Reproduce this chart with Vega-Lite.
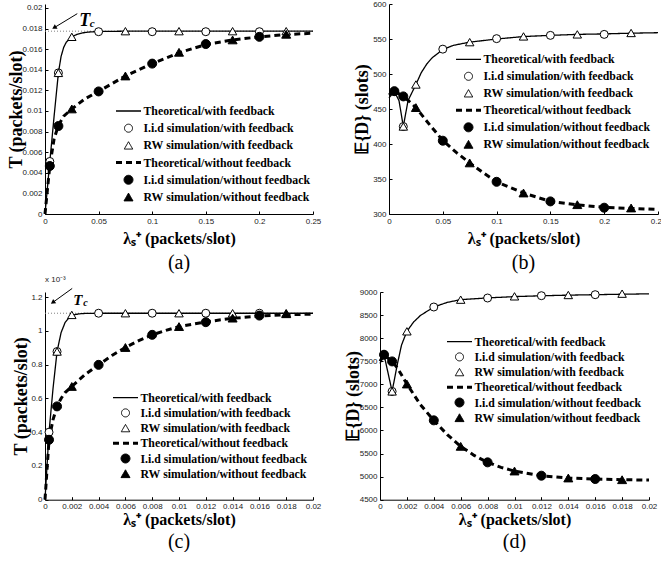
{
"$schema": "https://vega.github.io/schema/vega-lite/v6.json",
"background": "white",
"padding": {"left": 7, "top": 0, "right": 0, "bottom": 0},
"config": {
  "view": {"stroke": null},
  "axis": {"grid": false, "domainColor": "black", "domainWidth": 1, "tickColor": "black", "tickWidth": 1, "tickSize": -3, "labelFont": "Liberation Sans", "labelFontSize": 8, "labelColor": "#222", "labelPadding": 6, "labelFlush": false, "labelOverlap": false, "titleFont": "Liberation Serif", "titleFontWeight": "bold", "titleColor": "black", "titleFontSize": 16},
  "axisX": {"titlePadding": 5},
  "axisY": {"titleFontSize": 18},
  "legend": {"labelFont": "Liberation Serif", "labelFontSize": 11.8, "labelFontWeight": "bold", "labelColor": "black", "padding": 0, "labelOffset": 1, "clipHeight": 14, "labelLimit": 300},
  "title": {"font": "Liberation Sans", "fontSize": 8, "fontWeight": "normal", "color": "#222"}
},
"spacing": 3,
"resolve": {"scale": {"shape": "independent", "fill": "independent", "stroke": "independent", "size": "independent", "strokeWidth": "independent", "strokeDash": "independent"}, "legend": {"shape": "independent", "fill": "independent", "stroke": "independent", "size": "independent", "strokeWidth": "independent", "strokeDash": "independent"}},
"vconcat": [
{
"spacing": 32,
"resolve": {"scale": {"shape": "independent", "fill": "independent", "stroke": "independent", "size": "independent", "strokeWidth": "independent", "strokeDash": "independent"}, "legend": {"shape": "independent", "fill": "independent", "stroke": "independent", "size": "independent", "strokeWidth": "independent", "strokeDash": "independent"}},
"hconcat": [
{
  "width": 268, "height": 210,
  "layer": [
    {
      "data": {"values": [{"y": 0.01775}]},
      "mark": {"type": "rule", "color": "#808080", "strokeDash": [1, 2], "strokeWidth": 1},
      "encoding": {
        "y": {"field": "y", "type": "quantitative", "scale": {"domain": [0, 0.0203883], "nice": false, "zero": false},
              "axis": {"title": "T (packets/slot)", "values": [0, 0.002, 0.004, 0.006, 0.008, 0.01, 0.012, 0.014, 0.016, 0.018, 0.02], "tickCount": 30, "format": "~g", "labelOverlap": false, "titlePadding": -4}}
      }
    },
    {
      "data": {"values": [
        {"x": 0, "y": 0, "s": "Theoretical/with feedback"},
        {"x": 0.0045, "y": 0.0051, "s": "Theoretical/with feedback"},
        {"x": 0.0085, "y": 0.0095, "s": "Theoretical/with feedback"},
        {"x": 0.0125, "y": 0.0137, "s": "Theoretical/with feedback"},
        {"x": 0.015, "y": 0.0153, "s": "Theoretical/with feedback"},
        {"x": 0.0175, "y": 0.0162, "s": "Theoretical/with feedback"},
        {"x": 0.02, "y": 0.0167, "s": "Theoretical/with feedback"},
        {"x": 0.025, "y": 0.0172, "s": "Theoretical/with feedback"},
        {"x": 0.03, "y": 0.01745, "s": "Theoretical/with feedback"},
        {"x": 0.035, "y": 0.01758, "s": "Theoretical/with feedback"},
        {"x": 0.04, "y": 0.01766, "s": "Theoretical/with feedback"},
        {"x": 0.05, "y": 0.01772, "s": "Theoretical/with feedback"},
        {"x": 0.075, "y": 0.01775, "s": "Theoretical/with feedback"},
        {"x": 0.25, "y": 0.01775, "s": "Theoretical/with feedback"},
        {"x": 0, "y": 0, "s": "Theoretical/without feedback"},
        {"x": 0.0045, "y": 0.0047, "s": "Theoretical/without feedback"},
        {"x": 0.0085, "y": 0.0073, "s": "Theoretical/without feedback"},
        {"x": 0.0125, "y": 0.0086, "s": "Theoretical/without feedback"},
        {"x": 0.0175, "y": 0.0095, "s": "Theoretical/without feedback"},
        {"x": 0.025, "y": 0.0102, "s": "Theoretical/without feedback"},
        {"x": 0.0375, "y": 0.0112, "s": "Theoretical/without feedback"},
        {"x": 0.05, "y": 0.0119, "s": "Theoretical/without feedback"},
        {"x": 0.075, "y": 0.0134, "s": "Theoretical/without feedback"},
        {"x": 0.1, "y": 0.0146, "s": "Theoretical/without feedback"},
        {"x": 0.125, "y": 0.01565, "s": "Theoretical/without feedback"},
        {"x": 0.15, "y": 0.01645, "s": "Theoretical/without feedback"},
        {"x": 0.175, "y": 0.0169, "s": "Theoretical/without feedback"},
        {"x": 0.2, "y": 0.0172, "s": "Theoretical/without feedback"},
        {"x": 0.225, "y": 0.01742, "s": "Theoretical/without feedback"},
        {"x": 0.25, "y": 0.01755, "s": "Theoretical/without feedback"}
      ]},
      "mark": {"type": "line"},
      "encoding": {
        "x": {"field": "x", "type": "quantitative", "scale": {"domain": [0, 0.25], "nice": false, "zero": false},
              "axis": {"title": "λₛ⁺ (packets/slot)", "values": [0, 0.05, 0.1, 0.15, 0.2, 0.25], "tickCount": 30, "format": "~g", "labelOverlap": false, "labelFlush": false}},
        "y": {"field": "y", "type": "quantitative", "scale": {"domain": [0, 0.0203883], "nice": false, "zero": false}},
        "stroke": {"field": "s", "type": "nominal", "scale": {"domain": ["Theoretical/with feedback", "I.i.d simulation/with feedback", "RW simulation/with feedback", "Theoretical/without feedback", "I.i.d simulation/without feedback", "RW simulation/without feedback"], "range": ["black", "black", "black", "black", "black", "black"]}, "legend": {"orient": "none", "legendX": 69.5, "legendY": 100, "rowPadding": 3.2, "title": null}},
        "strokeDash": {"field": "s", "type": "nominal", "scale": {"type": "ordinal", "domain": ["Theoretical/with feedback", "I.i.d simulation/with feedback", "RW simulation/with feedback", "Theoretical/without feedback", "I.i.d simulation/without feedback", "RW simulation/without feedback"], "range": [[1, 0], [1, 0], [1, 0], [6, 4], [1, 0], [1, 0]]}, "legend": {"orient": "none", "legendX": 69.5, "legendY": 100, "rowPadding": 3.2, "title": null}},
        "strokeWidth": {"field": "s", "type": "nominal", "scale": {"type": "ordinal", "domain": ["Theoretical/with feedback", "I.i.d simulation/with feedback", "RW simulation/with feedback", "Theoretical/without feedback", "I.i.d simulation/without feedback", "RW simulation/without feedback"], "range": [1.3, 1, 1, 3, 1, 1]}, "legend": {"orient": "none", "legendX": 69.5, "legendY": 100, "rowPadding": 3.2, "title": null}}
      }
    },
    {
      "data": {"values": [
        {"x": 0.0045, "y": 0.0051, "s": "I.i.d simulation/with feedback"},
        {"x": 0.0125, "y": 0.0137, "s": "I.i.d simulation/with feedback"},
        {"x": 0.05, "y": 0.0177, "s": "I.i.d simulation/with feedback"},
        {"x": 0.1, "y": 0.0177, "s": "I.i.d simulation/with feedback"},
        {"x": 0.15, "y": 0.0177, "s": "I.i.d simulation/with feedback"},
        {"x": 0.2, "y": 0.0177, "s": "I.i.d simulation/with feedback"},
        {"x": 0.0125, "y": 0.0137, "s": "RW simulation/with feedback"},
        {"x": 0.025, "y": 0.0172, "s": "RW simulation/with feedback"},
        {"x": 0.075, "y": 0.01775, "s": "RW simulation/with feedback"},
        {"x": 0.125, "y": 0.01775, "s": "RW simulation/with feedback"},
        {"x": 0.175, "y": 0.01775, "s": "RW simulation/with feedback"},
        {"x": 0.225, "y": 0.01775, "s": "RW simulation/with feedback"},
        {"x": 0.0045, "y": 0.00466, "s": "I.i.d simulation/without feedback"},
        {"x": 0.0125, "y": 0.00854, "s": "I.i.d simulation/without feedback"},
        {"x": 0.05, "y": 0.0119, "s": "I.i.d simulation/without feedback"},
        {"x": 0.1, "y": 0.0146, "s": "I.i.d simulation/without feedback"},
        {"x": 0.15, "y": 0.0165, "s": "I.i.d simulation/without feedback"},
        {"x": 0.2, "y": 0.0172, "s": "I.i.d simulation/without feedback"},
        {"x": 0.025, "y": 0.0102, "s": "RW simulation/without feedback"},
        {"x": 0.075, "y": 0.0134, "s": "RW simulation/without feedback"},
        {"x": 0.125, "y": 0.0157, "s": "RW simulation/without feedback"},
        {"x": 0.175, "y": 0.0169, "s": "RW simulation/without feedback"},
        {"x": 0.225, "y": 0.01745, "s": "RW simulation/without feedback"}
      ]},
      "mark": {"type": "point", "filled": true, "opacity": 1},
      "encoding": {
        "x": {"field": "x", "type": "quantitative", "scale": {"domain": [0, 0.25], "nice": false, "zero": false}},
        "y": {"field": "y", "type": "quantitative", "scale": {"domain": [0, 0.0203883], "nice": false, "zero": false}},
        "shape": {"field": "s", "type": "nominal", "scale": {"domain": ["Theoretical/with feedback", "I.i.d simulation/with feedback", "RW simulation/with feedback", "Theoretical/without feedback", "I.i.d simulation/without feedback", "RW simulation/without feedback"], "range": ["stroke", "circle", "triangle-up", "stroke", "circle", "triangle-up"]}, "legend": {"orient": "none", "legendX": 69.5, "legendY": 100, "rowPadding": 3.2, "title": null}},
        "fill": {"field": "s", "type": "nominal", "scale": {"domain": ["Theoretical/with feedback", "I.i.d simulation/with feedback", "RW simulation/with feedback", "Theoretical/without feedback", "I.i.d simulation/without feedback", "RW simulation/without feedback"], "range": ["black", "white", "white", "black", "black", "black"]}, "legend": {"orient": "none", "legendX": 69.5, "legendY": 100, "rowPadding": 3.2, "title": null}},
        "stroke": {"field": "s", "type": "nominal", "scale": {"domain": ["Theoretical/with feedback", "I.i.d simulation/with feedback", "RW simulation/with feedback", "Theoretical/without feedback", "I.i.d simulation/without feedback", "RW simulation/without feedback"], "range": ["black", "black", "black", "black", "black", "black"]}, "legend": {"orient": "none", "legendX": 69.5, "legendY": 100, "rowPadding": 3.2, "title": null}},
        "size": {"field": "s", "type": "nominal", "scale": {"type": "ordinal", "domain": ["Theoretical/with feedback", "I.i.d simulation/with feedback", "RW simulation/with feedback", "Theoretical/without feedback", "I.i.d simulation/without feedback", "RW simulation/without feedback"], "range": [625, 64, 72, 625, 81, 81]}, "legend": {"orient": "none", "legendX": 69.5, "legendY": 100, "rowPadding": 3.2, "title": null}},
        "strokeWidth": {"field": "s", "type": "nominal", "scale": {"type": "ordinal", "domain": ["Theoretical/with feedback", "I.i.d simulation/with feedback", "RW simulation/with feedback", "Theoretical/without feedback", "I.i.d simulation/without feedback", "RW simulation/without feedback"], "range": [1.3, 1, 1, 3, 1, 1]}, "legend": {"orient": "none", "legendX": 69.5, "legendY": 100, "rowPadding": 3.2, "title": null}}
      }
    },
    {
      "data": {"values": [{"x": 0.0301, "y": 0.01945, "x2": 0.0086, "y2": 0.01809}]},
      "mark": {"type": "rule", "color": "black", "strokeWidth": 1},
      "encoding": {
        "x": {"field": "x", "type": "quantitative", "scale": {"domain": [0, 0.25], "nice": false, "zero": false}},
        "y": {"field": "y", "type": "quantitative", "scale": {"domain": [0, 0.0203883], "nice": false, "zero": false}},
        "x2": {"field": "x2"}, "y2": {"field": "y2"}
      }
    },
    {
      "data": {"values": [{"x": 0.0086, "y": 0.01809}]},
      "mark": {"type": "point", "shape": "triangle-up", "filled": true, "color": "black", "size": 28, "angle": 239, "opacity": 1},
      "encoding": {
        "x": {"field": "x", "type": "quantitative", "scale": {"domain": [0, 0.25], "nice": false, "zero": false}},
        "y": {"field": "y", "type": "quantitative", "scale": {"domain": [0, 0.0203883], "nice": false, "zero": false}}
      }
    },
    {
      "data": {"values": [{"x": 0.032, "y": 0.01828, "label": "T"}]},
      "mark": {"type": "text", "font": "Liberation Serif", "fontSize": 18, "fontStyle": "italic", "fontWeight": "bold", "align": "left", "baseline": "alphabetic", "color": "black"},
      "encoding": {
        "x": {"field": "x", "type": "quantitative", "scale": {"domain": [0, 0.25], "nice": false, "zero": false}},
        "y": {"field": "y", "type": "quantitative", "scale": {"domain": [0, 0.0203883], "nice": false, "zero": false}},
        "text": {"field": "label"}
      }
    },
    {
      "data": {"values": [{"x": 0.0418, "y": 0.01812, "label": "c"}]},
      "mark": {"type": "text", "font": "Liberation Serif", "fontSize": 11, "fontStyle": "italic", "fontWeight": "bold", "align": "left", "baseline": "alphabetic", "color": "black"},
      "encoding": {
        "x": {"field": "x", "type": "quantitative", "scale": {"domain": [0, 0.25], "nice": false, "zero": false}},
        "y": {"field": "y", "type": "quantitative", "scale": {"domain": [0, 0.0203883], "nice": false, "zero": false}},
        "text": {"field": "label"}
      }
    },
    {
      "data": {"values": [{"x": 0.125, "y": 0, "label": "(a)"}]},
      "mark": {"type": "text", "font": "Liberation Serif", "fontSize": 20, "align": "center", "baseline": "middle", "dy": 49, "color": "black"},
      "encoding": {
        "x": {"field": "x", "type": "quantitative", "scale": {"domain": [0, 0.25], "nice": false, "zero": false}},
        "y": {"field": "y", "type": "quantitative", "scale": {"domain": [0, 0.0203883], "nice": false, "zero": false}},
        "text": {"field": "label"}
      }
    }
  ]
},
{
  "width": 269, "height": 210,
  "layer": [
    {
      "data": {"values": [
        {"x": 0, "y": 466, "s": "Theoretical/with feedback"},
        {"x": 0.005, "y": 475, "s": "Theoretical/with feedback"},
        {"x": 0.0093, "y": 462, "s": "Theoretical/with feedback"},
        {"x": 0.0133, "y": 425, "s": "Theoretical/with feedback"},
        {"x": 0.0177, "y": 462, "s": "Theoretical/with feedback"},
        {"x": 0.025, "y": 485, "s": "Theoretical/with feedback"},
        {"x": 0.03, "y": 502, "s": "Theoretical/with feedback"},
        {"x": 0.035, "y": 514, "s": "Theoretical/with feedback"},
        {"x": 0.04, "y": 523, "s": "Theoretical/with feedback"},
        {"x": 0.05, "y": 535, "s": "Theoretical/with feedback"},
        {"x": 0.06, "y": 541, "s": "Theoretical/with feedback"},
        {"x": 0.075, "y": 545.5, "s": "Theoretical/with feedback"},
        {"x": 0.1, "y": 550, "s": "Theoretical/with feedback"},
        {"x": 0.125, "y": 553.5, "s": "Theoretical/with feedback"},
        {"x": 0.15, "y": 555.2, "s": "Theoretical/with feedback"},
        {"x": 0.175, "y": 556.6, "s": "Theoretical/with feedback"},
        {"x": 0.2, "y": 557.3, "s": "Theoretical/with feedback"},
        {"x": 0.225, "y": 558.3, "s": "Theoretical/with feedback"},
        {"x": 0.25, "y": 559, "s": "Theoretical/with feedback"},
        {"x": 0, "y": 470, "s": "Theoretical/without feedback"},
        {"x": 0.005, "y": 475.5, "s": "Theoretical/without feedback"},
        {"x": 0.0133, "y": 468, "s": "Theoretical/without feedback"},
        {"x": 0.018, "y": 462, "s": "Theoretical/without feedback"},
        {"x": 0.025, "y": 452, "s": "Theoretical/without feedback"},
        {"x": 0.0375, "y": 428, "s": "Theoretical/without feedback"},
        {"x": 0.05, "y": 405, "s": "Theoretical/without feedback"},
        {"x": 0.0625, "y": 388, "s": "Theoretical/without feedback"},
        {"x": 0.075, "y": 373, "s": "Theoretical/without feedback"},
        {"x": 0.0875, "y": 359, "s": "Theoretical/without feedback"},
        {"x": 0.1, "y": 346, "s": "Theoretical/without feedback"},
        {"x": 0.125, "y": 330, "s": "Theoretical/without feedback"},
        {"x": 0.15, "y": 318, "s": "Theoretical/without feedback"},
        {"x": 0.175, "y": 313, "s": "Theoretical/without feedback"},
        {"x": 0.2, "y": 309.5, "s": "Theoretical/without feedback"},
        {"x": 0.225, "y": 308, "s": "Theoretical/without feedback"},
        {"x": 0.25, "y": 306.5, "s": "Theoretical/without feedback"}
      ]},
      "mark": {"type": "line"},
      "encoding": {
        "x": {"field": "x", "type": "quantitative", "scale": {"domain": [0, 0.25], "nice": false, "zero": false},
              "axis": {"title": "λₛ⁺ (packets/slot)", "values": [0, 0.05, 0.1, 0.15, 0.2, 0.25], "tickCount": 30, "format": "~g", "labelOverlap": false, "labelFlush": false}},
        "y": {"field": "y", "type": "quantitative", "scale": {"domain": [300, 600], "nice": false, "zero": false},
              "axis": {"title": "𝔼{D} (slots)", "values": [300, 350, 400, 450, 500, 550, 600], "tickCount": 30, "format": "d", "labelOverlap": false, "titlePadding": 1}},
        "stroke": {"field": "s", "type": "nominal", "scale": {"domain": ["Theoretical/with feedback", "I.i.d simulation/with feedback", "RW simulation/with feedback", "Theoretical/without feedback", "I.i.d simulation/without feedback", "RW simulation/without feedback"], "range": ["black", "black", "black", "black", "black", "black"]}, "legend": {"orient": "none", "legendX": 65.5, "legendY": 48.3, "rowPadding": 3, "title": null}},
        "strokeDash": {"field": "s", "type": "nominal", "scale": {"type": "ordinal", "domain": ["Theoretical/with feedback", "I.i.d simulation/with feedback", "RW simulation/with feedback", "Theoretical/without feedback", "I.i.d simulation/without feedback", "RW simulation/without feedback"], "range": [[1, 0], [1, 0], [1, 0], [6, 4], [1, 0], [1, 0]]}, "legend": {"orient": "none", "legendX": 65.5, "legendY": 48.3, "rowPadding": 3, "title": null}},
        "strokeWidth": {"field": "s", "type": "nominal", "scale": {"type": "ordinal", "domain": ["Theoretical/with feedback", "I.i.d simulation/with feedback", "RW simulation/with feedback", "Theoretical/without feedback", "I.i.d simulation/without feedback", "RW simulation/without feedback"], "range": [1.3, 1, 1, 3, 1, 1]}, "legend": {"orient": "none", "legendX": 65.5, "legendY": 48.3, "rowPadding": 3, "title": null}}
      }
    },
    {
      "data": {"values": [
        {"x": 0.005, "y": 475, "s": "I.i.d simulation/with feedback"},
        {"x": 0.0133, "y": 425, "s": "I.i.d simulation/with feedback"},
        {"x": 0.05, "y": 535.5, "s": "I.i.d simulation/with feedback"},
        {"x": 0.1, "y": 550.5, "s": "I.i.d simulation/with feedback"},
        {"x": 0.15, "y": 555.2, "s": "I.i.d simulation/with feedback"},
        {"x": 0.2, "y": 556.6, "s": "I.i.d simulation/with feedback"},
        {"x": 0.0133, "y": 425, "s": "RW simulation/with feedback"},
        {"x": 0.025, "y": 485, "s": "RW simulation/with feedback"},
        {"x": 0.075, "y": 545.5, "s": "RW simulation/with feedback"},
        {"x": 0.125, "y": 553.7, "s": "RW simulation/with feedback"},
        {"x": 0.175, "y": 556.6, "s": "RW simulation/with feedback"},
        {"x": 0.225, "y": 558.6, "s": "RW simulation/with feedback"},
        {"x": 0.005, "y": 475.5, "s": "I.i.d simulation/without feedback"},
        {"x": 0.0133, "y": 468, "s": "I.i.d simulation/without feedback"},
        {"x": 0.05, "y": 404.7, "s": "I.i.d simulation/without feedback"},
        {"x": 0.1, "y": 346, "s": "I.i.d simulation/without feedback"},
        {"x": 0.15, "y": 318, "s": "I.i.d simulation/without feedback"},
        {"x": 0.2, "y": 309, "s": "I.i.d simulation/without feedback"},
        {"x": 0.025, "y": 452, "s": "RW simulation/without feedback"},
        {"x": 0.075, "y": 373, "s": "RW simulation/without feedback"},
        {"x": 0.125, "y": 330, "s": "RW simulation/without feedback"},
        {"x": 0.175, "y": 313.3, "s": "RW simulation/without feedback"},
        {"x": 0.225, "y": 308.6, "s": "RW simulation/without feedback"}
      ]},
      "mark": {"type": "point", "filled": true, "opacity": 1},
      "encoding": {
        "x": {"field": "x", "type": "quantitative", "scale": {"domain": [0, 0.25], "nice": false, "zero": false}},
        "y": {"field": "y", "type": "quantitative", "scale": {"domain": [300, 600], "nice": false, "zero": false}},
        "shape": {"field": "s", "type": "nominal", "scale": {"domain": ["Theoretical/with feedback", "I.i.d simulation/with feedback", "RW simulation/with feedback", "Theoretical/without feedback", "I.i.d simulation/without feedback", "RW simulation/without feedback"], "range": ["stroke", "circle", "triangle-up", "stroke", "circle", "triangle-up"]}, "legend": {"orient": "none", "legendX": 65.5, "legendY": 48.3, "rowPadding": 3, "title": null}},
        "fill": {"field": "s", "type": "nominal", "scale": {"domain": ["Theoretical/with feedback", "I.i.d simulation/with feedback", "RW simulation/with feedback", "Theoretical/without feedback", "I.i.d simulation/without feedback", "RW simulation/without feedback"], "range": ["black", "white", "white", "black", "black", "black"]}, "legend": {"orient": "none", "legendX": 65.5, "legendY": 48.3, "rowPadding": 3, "title": null}},
        "stroke": {"field": "s", "type": "nominal", "scale": {"domain": ["Theoretical/with feedback", "I.i.d simulation/with feedback", "RW simulation/with feedback", "Theoretical/without feedback", "I.i.d simulation/without feedback", "RW simulation/without feedback"], "range": ["black", "black", "black", "black", "black", "black"]}, "legend": {"orient": "none", "legendX": 65.5, "legendY": 48.3, "rowPadding": 3, "title": null}},
        "size": {"field": "s", "type": "nominal", "scale": {"type": "ordinal", "domain": ["Theoretical/with feedback", "I.i.d simulation/with feedback", "RW simulation/with feedback", "Theoretical/without feedback", "I.i.d simulation/without feedback", "RW simulation/without feedback"], "range": [625, 64, 72, 625, 81, 81]}, "legend": {"orient": "none", "legendX": 65.5, "legendY": 48.3, "rowPadding": 3, "title": null}},
        "strokeWidth": {"field": "s", "type": "nominal", "scale": {"type": "ordinal", "domain": ["Theoretical/with feedback", "I.i.d simulation/with feedback", "RW simulation/with feedback", "Theoretical/without feedback", "I.i.d simulation/without feedback", "RW simulation/without feedback"], "range": [1.3, 1, 1, 3, 1, 1]}, "legend": {"orient": "none", "legendX": 65.5, "legendY": 48.3, "rowPadding": 3, "title": null}}
      }
    },
    {
      "data": {"values": [{"x": 0.125, "y": 300, "label": "(b)"}]},
      "mark": {"type": "text", "font": "Liberation Serif", "fontSize": 20, "align": "center", "baseline": "middle", "dy": 49, "color": "black"},
      "encoding": {
        "x": {"field": "x", "type": "quantitative", "scale": {"domain": [0, 0.25], "nice": false, "zero": false}},
        "y": {"field": "y", "type": "quantitative", "scale": {"domain": [300, 600], "nice": false, "zero": false}},
        "text": {"field": "label"}
      }
    }
  ]
}
]
},
{
"spacing": 23,
"resolve": {"scale": {"shape": "independent", "fill": "independent", "stroke": "independent", "size": "independent", "strokeWidth": "independent", "strokeDash": "independent"}, "legend": {"shape": "independent", "fill": "independent", "stroke": "independent", "size": "independent", "strokeWidth": "independent", "strokeDash": "independent"}},
"hconcat": [
{
  "width": 268, "height": 207.7,
  "title": {"text": "x 10⁻³", "anchor": "start", "frame": "group", "fontSize": 8, "offset": 3.6},
  "layer": [
    {
      "data": {"values": [{"y": 1.105}]},
      "mark": {"type": "rule", "color": "#808080", "strokeDash": [1, 2], "strokeWidth": 1},
      "encoding": {
        "y": {"field": "y", "type": "quantitative", "scale": {"domain": [0, 1.2308], "nice": false, "zero": false},
              "axis": {"title": "T (packets/slot)", "values": [0, 0.2, 0.4, 0.6, 0.8, 1, 1.2], "tickCount": 30, "format": "~g", "labelOverlap": false, "titlePadding": 0}}
      }
    },
    {
      "data": {"values": [
        {"x": 0, "y": 0, "s": "Theoretical/with feedback"},
        {"x": 0.0003, "y": 0.4, "s": "Theoretical/with feedback"},
        {"x": 0.0006, "y": 0.66, "s": "Theoretical/with feedback"},
        {"x": 0.0009, "y": 0.878, "s": "Theoretical/with feedback"},
        {"x": 0.0012, "y": 0.99, "s": "Theoretical/with feedback"},
        {"x": 0.0015, "y": 1.05, "s": "Theoretical/with feedback"},
        {"x": 0.0018, "y": 1.08, "s": "Theoretical/with feedback"},
        {"x": 0.002, "y": 1.092, "s": "Theoretical/with feedback"},
        {"x": 0.0025, "y": 1.101, "s": "Theoretical/with feedback"},
        {"x": 0.003, "y": 1.104, "s": "Theoretical/with feedback"},
        {"x": 0.004, "y": 1.105, "s": "Theoretical/with feedback"},
        {"x": 0.02, "y": 1.105, "s": "Theoretical/with feedback"},
        {"x": 0, "y": 0, "s": "Theoretical/without feedback"},
        {"x": 0.0003, "y": 0.355, "s": "Theoretical/without feedback"},
        {"x": 0.0006, "y": 0.475, "s": "Theoretical/without feedback"},
        {"x": 0.0009, "y": 0.553, "s": "Theoretical/without feedback"},
        {"x": 0.0012, "y": 0.6, "s": "Theoretical/without feedback"},
        {"x": 0.0015, "y": 0.635, "s": "Theoretical/without feedback"},
        {"x": 0.002, "y": 0.671, "s": "Theoretical/without feedback"},
        {"x": 0.003, "y": 0.742, "s": "Theoretical/without feedback"},
        {"x": 0.004, "y": 0.799, "s": "Theoretical/without feedback"},
        {"x": 0.005, "y": 0.855, "s": "Theoretical/without feedback"},
        {"x": 0.006, "y": 0.902, "s": "Theoretical/without feedback"},
        {"x": 0.007, "y": 0.943, "s": "Theoretical/without feedback"},
        {"x": 0.008, "y": 0.977, "s": "Theoretical/without feedback"},
        {"x": 0.009, "y": 1.003, "s": "Theoretical/without feedback"},
        {"x": 0.01, "y": 1.026, "s": "Theoretical/without feedback"},
        {"x": 0.012, "y": 1.054, "s": "Theoretical/without feedback"},
        {"x": 0.014, "y": 1.075, "s": "Theoretical/without feedback"},
        {"x": 0.016, "y": 1.088, "s": "Theoretical/without feedback"},
        {"x": 0.018, "y": 1.096, "s": "Theoretical/without feedback"},
        {"x": 0.02, "y": 1.1, "s": "Theoretical/without feedback"}
      ]},
      "mark": {"type": "line"},
      "encoding": {
        "x": {"field": "x", "type": "quantitative", "scale": {"domain": [0, 0.02], "nice": false, "zero": false},
              "axis": {"title": "λₛ⁺ (packets/slot)", "values": [0, 0.002, 0.004, 0.006, 0.008, 0.01, 0.012, 0.014, 0.016, 0.018, 0.02], "tickCount": 30, "format": "~g", "labelOverlap": false, "labelFlush": false, "titlePadding": 1}},
        "y": {"field": "y", "type": "quantitative", "scale": {"domain": [0, 1.2308], "nice": false, "zero": false}},
        "stroke": {"field": "s", "type": "nominal", "scale": {"domain": ["Theoretical/with feedback", "I.i.d simulation/with feedback", "RW simulation/with feedback", "Theoretical/without feedback", "I.i.d simulation/without feedback", "RW simulation/without feedback"], "range": ["black", "black", "black", "black", "black", "black"]}, "legend": {"orient": "none", "legendX": 66.5, "legendY": 98.7, "rowPadding": 1.2, "title": null}},
        "strokeDash": {"field": "s", "type": "nominal", "scale": {"type": "ordinal", "domain": ["Theoretical/with feedback", "I.i.d simulation/with feedback", "RW simulation/with feedback", "Theoretical/without feedback", "I.i.d simulation/without feedback", "RW simulation/without feedback"], "range": [[1, 0], [1, 0], [1, 0], [6, 4], [1, 0], [1, 0]]}, "legend": {"orient": "none", "legendX": 66.5, "legendY": 98.7, "rowPadding": 1.2, "title": null}},
        "strokeWidth": {"field": "s", "type": "nominal", "scale": {"type": "ordinal", "domain": ["Theoretical/with feedback", "I.i.d simulation/with feedback", "RW simulation/with feedback", "Theoretical/without feedback", "I.i.d simulation/without feedback", "RW simulation/without feedback"], "range": [1.3, 1, 1, 3, 1, 1]}, "legend": {"orient": "none", "legendX": 66.5, "legendY": 98.7, "rowPadding": 1.2, "title": null}}
      }
    },
    {
      "data": {"values": [
        {"x": 0.0003, "y": 0.4, "s": "I.i.d simulation/with feedback"},
        {"x": 0.0009, "y": 0.878, "s": "I.i.d simulation/with feedback"},
        {"x": 0.004, "y": 1.105, "s": "I.i.d simulation/with feedback"},
        {"x": 0.008, "y": 1.105, "s": "I.i.d simulation/with feedback"},
        {"x": 0.012, "y": 1.105, "s": "I.i.d simulation/with feedback"},
        {"x": 0.016, "y": 1.105, "s": "I.i.d simulation/with feedback"},
        {"x": 0.0009, "y": 0.878, "s": "RW simulation/with feedback"},
        {"x": 0.002, "y": 1.095, "s": "RW simulation/with feedback"},
        {"x": 0.006, "y": 1.105, "s": "RW simulation/with feedback"},
        {"x": 0.01, "y": 1.105, "s": "RW simulation/with feedback"},
        {"x": 0.014, "y": 1.105, "s": "RW simulation/with feedback"},
        {"x": 0.018, "y": 1.105, "s": "RW simulation/with feedback"},
        {"x": 0.0003, "y": 0.355, "s": "I.i.d simulation/without feedback"},
        {"x": 0.0009, "y": 0.553, "s": "I.i.d simulation/without feedback"},
        {"x": 0.004, "y": 0.799, "s": "I.i.d simulation/without feedback"},
        {"x": 0.008, "y": 0.977, "s": "I.i.d simulation/without feedback"},
        {"x": 0.012, "y": 1.052, "s": "I.i.d simulation/without feedback"},
        {"x": 0.016, "y": 1.091, "s": "I.i.d simulation/without feedback"},
        {"x": 0.002, "y": 0.671, "s": "RW simulation/without feedback"},
        {"x": 0.006, "y": 0.902, "s": "RW simulation/without feedback"},
        {"x": 0.01, "y": 1.026, "s": "RW simulation/without feedback"},
        {"x": 0.014, "y": 1.076, "s": "RW simulation/without feedback"},
        {"x": 0.018, "y": 1.102, "s": "RW simulation/without feedback"}
      ]},
      "mark": {"type": "point", "filled": true, "opacity": 1},
      "encoding": {
        "x": {"field": "x", "type": "quantitative", "scale": {"domain": [0, 0.02], "nice": false, "zero": false}},
        "y": {"field": "y", "type": "quantitative", "scale": {"domain": [0, 1.2308], "nice": false, "zero": false}},
        "shape": {"field": "s", "type": "nominal", "scale": {"domain": ["Theoretical/with feedback", "I.i.d simulation/with feedback", "RW simulation/with feedback", "Theoretical/without feedback", "I.i.d simulation/without feedback", "RW simulation/without feedback"], "range": ["stroke", "circle", "triangle-up", "stroke", "circle", "triangle-up"]}, "legend": {"orient": "none", "legendX": 66.5, "legendY": 98.7, "rowPadding": 1.2, "title": null}},
        "fill": {"field": "s", "type": "nominal", "scale": {"domain": ["Theoretical/with feedback", "I.i.d simulation/with feedback", "RW simulation/with feedback", "Theoretical/without feedback", "I.i.d simulation/without feedback", "RW simulation/without feedback"], "range": ["black", "white", "white", "black", "black", "black"]}, "legend": {"orient": "none", "legendX": 66.5, "legendY": 98.7, "rowPadding": 1.2, "title": null}},
        "stroke": {"field": "s", "type": "nominal", "scale": {"domain": ["Theoretical/with feedback", "I.i.d simulation/with feedback", "RW simulation/with feedback", "Theoretical/without feedback", "I.i.d simulation/without feedback", "RW simulation/without feedback"], "range": ["black", "black", "black", "black", "black", "black"]}, "legend": {"orient": "none", "legendX": 66.5, "legendY": 98.7, "rowPadding": 1.2, "title": null}},
        "size": {"field": "s", "type": "nominal", "scale": {"type": "ordinal", "domain": ["Theoretical/with feedback", "I.i.d simulation/with feedback", "RW simulation/with feedback", "Theoretical/without feedback", "I.i.d simulation/without feedback", "RW simulation/without feedback"], "range": [625, 64, 72, 625, 81, 81]}, "legend": {"orient": "none", "legendX": 66.5, "legendY": 98.7, "rowPadding": 1.2, "title": null}},
        "strokeWidth": {"field": "s", "type": "nominal", "scale": {"type": "ordinal", "domain": ["Theoretical/with feedback", "I.i.d simulation/with feedback", "RW simulation/with feedback", "Theoretical/without feedback", "I.i.d simulation/without feedback", "RW simulation/without feedback"], "range": [1.3, 1, 1, 3, 1, 1]}, "legend": {"orient": "none", "legendX": 66.5, "legendY": 98.7, "rowPadding": 1.2, "title": null}}
      }
    },
    {
      "data": {"values": [{"x": 0.00203, "y": 1.252, "x2": 0.00058, "y2": 1.169}]},
      "mark": {"type": "rule", "color": "black", "strokeWidth": 1},
      "encoding": {
        "x": {"field": "x", "type": "quantitative", "scale": {"domain": [0, 0.02], "nice": false, "zero": false}},
        "y": {"field": "y", "type": "quantitative", "scale": {"domain": [0, 1.2308], "nice": false, "zero": false}},
        "x2": {"field": "x2"}, "y2": {"field": "y2"}
      }
    },
    {
      "data": {"values": [{"x": 0.00058, "y": 1.169}]},
      "mark": {"type": "point", "shape": "triangle-up", "filled": true, "color": "black", "size": 28, "angle": 235, "opacity": 1},
      "encoding": {
        "x": {"field": "x", "type": "quantitative", "scale": {"domain": [0, 0.02], "nice": false, "zero": false}},
        "y": {"field": "y", "type": "quantitative", "scale": {"domain": [0, 1.2308], "nice": false, "zero": false}}
      }
    },
    {
      "data": {"values": [{"x": 0.0021, "y": 1.1556, "label": "T"}]},
      "mark": {"type": "text", "font": "Liberation Serif", "fontSize": 15, "fontStyle": "italic", "fontWeight": "bold", "align": "left", "baseline": "alphabetic", "color": "black"},
      "encoding": {
        "x": {"field": "x", "type": "quantitative", "scale": {"domain": [0, 0.02], "nice": false, "zero": false}},
        "y": {"field": "y", "type": "quantitative", "scale": {"domain": [0, 1.2308], "nice": false, "zero": false}},
        "text": {"field": "label"}
      }
    },
    {
      "data": {"values": [{"x": 0.00285, "y": 1.1496, "label": "c"}]},
      "mark": {"type": "text", "font": "Liberation Serif", "fontSize": 10, "fontStyle": "italic", "fontWeight": "bold", "align": "left", "baseline": "alphabetic", "color": "black"},
      "encoding": {
        "x": {"field": "x", "type": "quantitative", "scale": {"domain": [0, 0.02], "nice": false, "zero": false}},
        "y": {"field": "y", "type": "quantitative", "scale": {"domain": [0, 1.2308], "nice": false, "zero": false}},
        "text": {"field": "label"}
      }
    },
    {
      "data": {"values": [{"x": 0.01, "y": 0, "label": "(c)"}]},
      "mark": {"type": "text", "font": "Liberation Serif", "fontSize": 20, "align": "center", "baseline": "middle", "dy": 42, "color": "black"},
      "encoding": {
        "x": {"field": "x", "type": "quantitative", "scale": {"domain": [0, 0.02], "nice": false, "zero": false}},
        "y": {"field": "y", "type": "quantitative", "scale": {"domain": [0, 1.2308], "nice": false, "zero": false}},
        "text": {"field": "label"}
      }
    }
  ]
},
{
  "width": 269, "height": 207.7,
  "layer": [
    {
      "data": {"values": [
        {"x": 0, "y": 7450, "s": "Theoretical/with feedback"},
        {"x": 0.0003, "y": 7640, "s": "Theoretical/with feedback"},
        {"x": 0.0009, "y": 6846, "s": "Theoretical/with feedback"},
        {"x": 0.0013, "y": 7450, "s": "Theoretical/with feedback"},
        {"x": 0.0016, "y": 7850, "s": "Theoretical/with feedback"},
        {"x": 0.002, "y": 8148, "s": "Theoretical/with feedback"},
        {"x": 0.0025, "y": 8350, "s": "Theoretical/with feedback"},
        {"x": 0.003, "y": 8490, "s": "Theoretical/with feedback"},
        {"x": 0.004, "y": 8675, "s": "Theoretical/with feedback"},
        {"x": 0.005, "y": 8775, "s": "Theoretical/with feedback"},
        {"x": 0.006, "y": 8834, "s": "Theoretical/with feedback"},
        {"x": 0.008, "y": 8872, "s": "Theoretical/with feedback"},
        {"x": 0.01, "y": 8900, "s": "Theoretical/with feedback"},
        {"x": 0.012, "y": 8918, "s": "Theoretical/with feedback"},
        {"x": 0.014, "y": 8932, "s": "Theoretical/with feedback"},
        {"x": 0.016, "y": 8942, "s": "Theoretical/with feedback"},
        {"x": 0.018, "y": 8952, "s": "Theoretical/with feedback"},
        {"x": 0.02, "y": 8960, "s": "Theoretical/with feedback"},
        {"x": 0, "y": 7500, "s": "Theoretical/without feedback"},
        {"x": 0.0003, "y": 7641, "s": "Theoretical/without feedback"},
        {"x": 0.0009, "y": 7496, "s": "Theoretical/without feedback"},
        {"x": 0.0013, "y": 7353, "s": "Theoretical/without feedback"},
        {"x": 0.002, "y": 7006, "s": "Theoretical/without feedback"},
        {"x": 0.003, "y": 6560, "s": "Theoretical/without feedback"},
        {"x": 0.004, "y": 6219, "s": "Theoretical/without feedback"},
        {"x": 0.005, "y": 5910, "s": "Theoretical/without feedback"},
        {"x": 0.006, "y": 5656, "s": "Theoretical/without feedback"},
        {"x": 0.007, "y": 5460, "s": "Theoretical/without feedback"},
        {"x": 0.008, "y": 5309, "s": "Theoretical/without feedback"},
        {"x": 0.009, "y": 5200, "s": "Theoretical/without feedback"},
        {"x": 0.01, "y": 5121, "s": "Theoretical/without feedback"},
        {"x": 0.012, "y": 5020, "s": "Theoretical/without feedback"},
        {"x": 0.014, "y": 4970, "s": "Theoretical/without feedback"},
        {"x": 0.016, "y": 4948, "s": "Theoretical/without feedback"},
        {"x": 0.018, "y": 4933, "s": "Theoretical/without feedback"},
        {"x": 0.02, "y": 4925, "s": "Theoretical/without feedback"}
      ]},
      "mark": {"type": "line"},
      "encoding": {
        "x": {"field": "x", "type": "quantitative", "scale": {"domain": [0, 0.02], "nice": false, "zero": false},
              "axis": {"title": "λₛ⁺ (packets/slot)", "values": [0, 0.002, 0.004, 0.006, 0.008, 0.01, 0.012, 0.014, 0.016, 0.018, 0.02], "tickCount": 30, "format": "~g", "labelOverlap": false, "labelFlush": false, "titlePadding": 1}},
        "y": {"field": "y", "type": "quantitative", "scale": {"domain": [4500, 9000], "nice": false, "zero": false},
              "axis": {"title": "𝔼{D} (slots)", "values": [4500, 5000, 5500, 6000, 6500, 7000, 7500, 8000, 8500, 9000], "tickCount": 30, "format": "d", "labelOverlap": false, "titlePadding": -2.8}},
        "stroke": {"field": "s", "type": "nominal", "scale": {"domain": ["Theoretical/with feedback", "I.i.d simulation/with feedback", "RW simulation/with feedback", "Theoretical/without feedback", "I.i.d simulation/without feedback", "RW simulation/without feedback"], "range": ["black", "black", "black", "black", "black", "black"]}, "legend": {"orient": "none", "legendX": 65.5, "legendY": 42.7, "rowPadding": 1.2, "title": null}},
        "strokeDash": {"field": "s", "type": "nominal", "scale": {"type": "ordinal", "domain": ["Theoretical/with feedback", "I.i.d simulation/with feedback", "RW simulation/with feedback", "Theoretical/without feedback", "I.i.d simulation/without feedback", "RW simulation/without feedback"], "range": [[1, 0], [1, 0], [1, 0], [6, 4], [1, 0], [1, 0]]}, "legend": {"orient": "none", "legendX": 65.5, "legendY": 42.7, "rowPadding": 1.2, "title": null}},
        "strokeWidth": {"field": "s", "type": "nominal", "scale": {"type": "ordinal", "domain": ["Theoretical/with feedback", "I.i.d simulation/with feedback", "RW simulation/with feedback", "Theoretical/without feedback", "I.i.d simulation/without feedback", "RW simulation/without feedback"], "range": [1.3, 1, 1, 3, 1, 1]}, "legend": {"orient": "none", "legendX": 65.5, "legendY": 42.7, "rowPadding": 1.2, "title": null}}
      }
    },
    {
      "data": {"values": [
        {"x": 0.0003, "y": 7640, "s": "I.i.d simulation/with feedback"},
        {"x": 0.0009, "y": 6846, "s": "I.i.d simulation/with feedback"},
        {"x": 0.004, "y": 8675, "s": "I.i.d simulation/with feedback"},
        {"x": 0.008, "y": 8870, "s": "I.i.d simulation/with feedback"},
        {"x": 0.012, "y": 8920, "s": "I.i.d simulation/with feedback"},
        {"x": 0.016, "y": 8942, "s": "I.i.d simulation/with feedback"},
        {"x": 0.0009, "y": 6846, "s": "RW simulation/with feedback"},
        {"x": 0.002, "y": 8148, "s": "RW simulation/with feedback"},
        {"x": 0.006, "y": 8834, "s": "RW simulation/with feedback"},
        {"x": 0.01, "y": 8906, "s": "RW simulation/with feedback"},
        {"x": 0.014, "y": 8935, "s": "RW simulation/with feedback"},
        {"x": 0.018, "y": 8964, "s": "RW simulation/with feedback"},
        {"x": 0.0003, "y": 7641, "s": "I.i.d simulation/without feedback"},
        {"x": 0.0009, "y": 7496, "s": "I.i.d simulation/without feedback"},
        {"x": 0.004, "y": 6219, "s": "I.i.d simulation/without feedback"},
        {"x": 0.008, "y": 5309, "s": "I.i.d simulation/without feedback"},
        {"x": 0.012, "y": 5020, "s": "I.i.d simulation/without feedback"},
        {"x": 0.016, "y": 4948, "s": "I.i.d simulation/without feedback"},
        {"x": 0.002, "y": 7006, "s": "RW simulation/without feedback"},
        {"x": 0.006, "y": 5656, "s": "RW simulation/without feedback"},
        {"x": 0.01, "y": 5121, "s": "RW simulation/without feedback"},
        {"x": 0.014, "y": 4970, "s": "RW simulation/without feedback"},
        {"x": 0.018, "y": 4933, "s": "RW simulation/without feedback"}
      ]},
      "mark": {"type": "point", "filled": true, "opacity": 1},
      "encoding": {
        "x": {"field": "x", "type": "quantitative", "scale": {"domain": [0, 0.02], "nice": false, "zero": false}},
        "y": {"field": "y", "type": "quantitative", "scale": {"domain": [4500, 9000], "nice": false, "zero": false}},
        "shape": {"field": "s", "type": "nominal", "scale": {"domain": ["Theoretical/with feedback", "I.i.d simulation/with feedback", "RW simulation/with feedback", "Theoretical/without feedback", "I.i.d simulation/without feedback", "RW simulation/without feedback"], "range": ["stroke", "circle", "triangle-up", "stroke", "circle", "triangle-up"]}, "legend": {"orient": "none", "legendX": 65.5, "legendY": 42.7, "rowPadding": 1.2, "title": null}},
        "fill": {"field": "s", "type": "nominal", "scale": {"domain": ["Theoretical/with feedback", "I.i.d simulation/with feedback", "RW simulation/with feedback", "Theoretical/without feedback", "I.i.d simulation/without feedback", "RW simulation/without feedback"], "range": ["black", "white", "white", "black", "black", "black"]}, "legend": {"orient": "none", "legendX": 65.5, "legendY": 42.7, "rowPadding": 1.2, "title": null}},
        "stroke": {"field": "s", "type": "nominal", "scale": {"domain": ["Theoretical/with feedback", "I.i.d simulation/with feedback", "RW simulation/with feedback", "Theoretical/without feedback", "I.i.d simulation/without feedback", "RW simulation/without feedback"], "range": ["black", "black", "black", "black", "black", "black"]}, "legend": {"orient": "none", "legendX": 65.5, "legendY": 42.7, "rowPadding": 1.2, "title": null}},
        "size": {"field": "s", "type": "nominal", "scale": {"type": "ordinal", "domain": ["Theoretical/with feedback", "I.i.d simulation/with feedback", "RW simulation/with feedback", "Theoretical/without feedback", "I.i.d simulation/without feedback", "RW simulation/without feedback"], "range": [625, 64, 72, 625, 81, 81]}, "legend": {"orient": "none", "legendX": 65.5, "legendY": 42.7, "rowPadding": 1.2, "title": null}},
        "strokeWidth": {"field": "s", "type": "nominal", "scale": {"type": "ordinal", "domain": ["Theoretical/with feedback", "I.i.d simulation/with feedback", "RW simulation/with feedback", "Theoretical/without feedback", "I.i.d simulation/without feedback", "RW simulation/without feedback"], "range": [1.3, 1, 1, 3, 1, 1]}, "legend": {"orient": "none", "legendX": 65.5, "legendY": 42.7, "rowPadding": 1.2, "title": null}}
      }
    },
    {
      "data": {"values": [{"x": 0.01, "y": 4500, "label": "(d)"}]},
      "mark": {"type": "text", "font": "Liberation Serif", "fontSize": 20, "align": "center", "baseline": "middle", "dy": 42, "color": "black"},
      "encoding": {
        "x": {"field": "x", "type": "quantitative", "scale": {"domain": [0, 0.02], "nice": false, "zero": false}},
        "y": {"field": "y", "type": "quantitative", "scale": {"domain": [4500, 9000], "nice": false, "zero": false}},
        "text": {"field": "label"}
      }
    }
  ]
}
]
}
]
}
